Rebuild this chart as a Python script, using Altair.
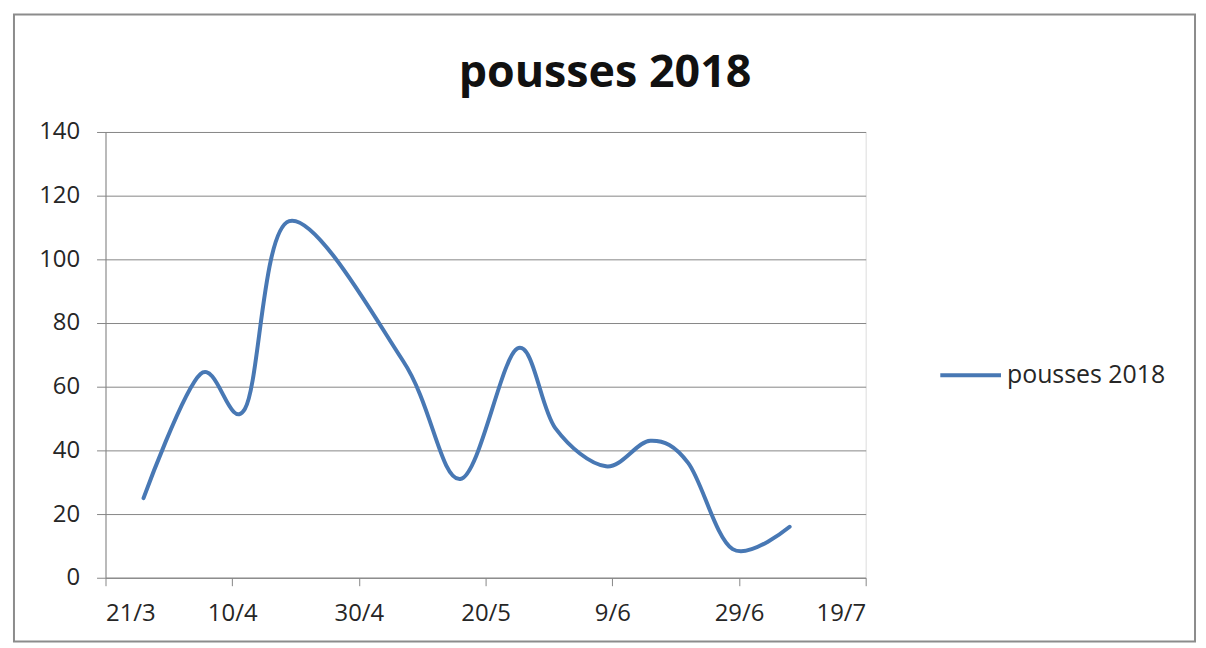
import altair as alt
import pandas as pd

dates = ["2018-03-27", "2018-04-05", "2018-04-12", "2018-04-19", "2018-05-07",
         "2018-05-16", "2018-05-25", "2018-05-31", "2018-06-08", "2018-06-15",
         "2018-06-21", "2018-06-28", "2018-07-07"]
values = [25, 64, 53, 112, 68, 31, 72, 47, 35, 43, 36, 9, 16]
series = "pousses 2018"
tick_dates = [(2018, 3, 21), (2018, 4, 10), (2018, 4, 30), (2018, 5, 20),
              (2018, 6, 9), (2018, 6, 29), (2018, 7, 19)]
y_ticks = [0, 20, 40, 60, 80, 100, 120, 140]

df = pd.DataFrame({"date": dates, "value": values, "serie": series})
title_df = pd.DataFrame({"t": [series]})

FONT = "Open Sans"
W, H = 764, 448
GRAY = "#868686"
TXT = "#262626"

xvals = [alt.DateTime(year=y, month=m, date=d, utc=True) for (y, m, d) in tick_dates]

line = alt.Chart(df).mark_line(
    interpolate="cardinal", tension=0, strokeWidth=4, strokeCap="round"
).encode(
    x=alt.X("date:T",
            scale=alt.Scale(type="utc", domain=[xvals[0], xvals[-1]], nice=False),
            axis=alt.Axis(values=xvals, labelExpr="utcFormat(datum.value, '%-d/%-m')",
                          title=None, grid=False, domainColor=GRAY, tickColor=GRAY,
                          tickSize=8, labelPadding=16, labelFontSize=24,
                          labelColor=TXT, labelFont=FONT)),
    y=alt.Y("value:Q",
            scale=alt.Scale(domain=[0, 140], nice=False),
            axis=alt.Axis(values=y_ticks, title=None, grid=True, gridColor=GRAY,
                          domainColor=GRAY, tickColor=GRAY, tickSize=9,
                          labelPadding=17, labelFontSize=24, labelColor=TXT,
                          labelFont=FONT)),
    color=alt.Color("serie:N",
                    scale=alt.Scale(domain=[series], range=["#4878b4"]),
                    legend=alt.Legend(title=None, orient="none", legendX=837, legendY=212,
                                      symbolType="stroke", symbolSize=3721,
                                      symbolStrokeWidth=4, labelFontSize=25,
                                      labelFont=FONT, labelColor=TXT, labelLimit=400,
                                      labelOffset=4, padding=0)),
)

frame = alt.Chart(title_df).mark_rect(fill=None, stroke="#8c8c8c", strokeWidth=2,
                                      clip=False).encode(
    x=alt.value(-92), x2=alt.value(1095), y=alt.value(-118), y2=alt.value(512)
)

title = alt.Chart(title_df).mark_text(
    font=FONT, fontSize=45, fontWeight="bold", color="#111111",
    align="center", baseline="alphabetic", clip=False
).encode(text="t:N", x=alt.value(502), y=alt.value(-45))

chart = alt.layer(frame, line, title).properties(
    width=W, height=H,
    padding={"left": 98, "top": 123, "right": 334, "bottom": 68},
    autosize=alt.AutoSizeParams(type="none"),
).configure_view(stroke=None).configure(background="white")

chart.save("out.html", embed_options={"renderer": "svg", "actions": False})
